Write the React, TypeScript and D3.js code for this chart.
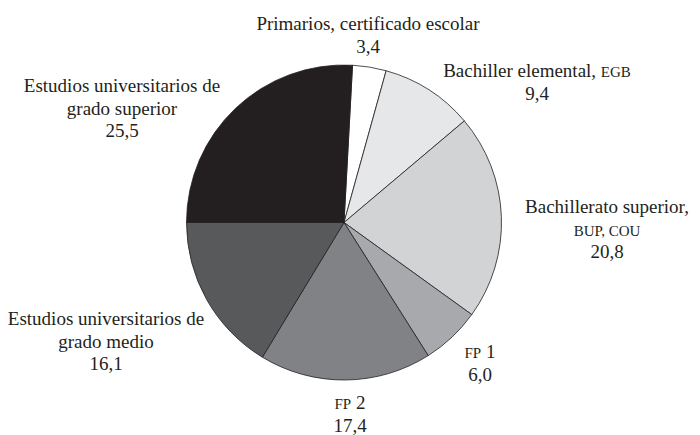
import React from "react";
import * as d3 from "d3";

const categories = [
  "Primarios, certificado escolar",
  "Bachiller elemental, EGB",
  "Bachillerato superior, BUP, COU",
  "FP 1",
  "FP 2",
  "Estudios universitarios de grado medio",
  "Estudios universitarios de grado superior",
];
const values = [3.4, 9.4, 20.8, 6.0, 17.4, 16.1, 25.5];
const valueLabels = ["3,4", "9,4", "20,8", "6,0", "17,4", "16,1", "25,5"];
const colors = ["#ffffff", "#e6e7e8", "#d1d3d4", "#a7a9ac", "#808285", "#58595b", "#231f20"];

// label lines: each line is a list of [text, smallCaps]
type Seg = [string, boolean];
const labelLines: Seg[][][] = [
  [[["Primarios, certificado escolar", false]]],
  [[["Bachiller elemental, ", false], ["EGB", true]]],
  [[["Bachillerato superior,", false]], [["BUP, COU", true]]],
  [[["FP", true], [" 1", false]]],
  [[["FP", true], [" 2", false]]],
  [[["Estudios universitarios de", false]], [["grado medio", false]]],
  [[["Estudios universitarios de", false]], [["grado superior", false]]],
];

// layout (label anchor: center x, first baseline y)
const labelAnchors: [number, number][] = [
  [368, 30],
  [537, 77],
  [607, 213],
  [480, 358],
  [350, 409],
  [106, 325],
  [122, 92],
];

const W = 700;
const H = 435;
const CX = 344;
const CY = 222.5;
const R = 157.5;
const LINE = 22.5;
const FONT = 19;
const SC = 15;
const FAMILY = "Liberation Serif, DejaVu Serif, serif";

export default function App() {
  const start = (3.1 * Math.PI) / 180;
  const pie = d3
    .pie<number>()
    .sort(null)
    .value((d) => d)
    .startAngle(start)
    .endAngle(start + 2 * Math.PI);
  const arcs = pie(values);
  const arc = d3.arc<d3.PieArcDatum<number>>().innerRadius(0).outerRadius(R);

  return (
    <svg
      width={W}
      height={H}
      style={{ position: "absolute", left: 0, top: 0, background: "#fff" }}
    >
      <g transform={`translate(${CX},${CY})`}>
        {arcs.map((a, i) => (
          <path
            key={categories[i]}
            d={arc(a) || ""}
            fill={colors[i]}
            stroke="#231f20"
            strokeWidth={0.8}
            strokeLinejoin="round"
          />
        ))}
      </g>
      {labelLines.map((lines, i) => {
        const [x, y] = labelAnchors[i];
        return (
          <text
            key={i}
            textAnchor="middle"
            fill="#231f20"
            style={{ fontFamily: FAMILY, fontSize: FONT }}
          >
            {lines.map((segs, j) => (
              <tspan key={j} x={x} y={y + j * LINE}>
                {segs.map(([t, sc], k) => (
                  <tspan key={k} style={{ fontSize: sc ? SC : FONT }}>
                    {t}
                  </tspan>
                ))}
              </tspan>
            ))}
            <tspan x={x} y={y + lines.length * LINE}>
              {valueLabels[i]}
            </tspan>
          </text>
        );
      })}
    </svg>
  );
}
